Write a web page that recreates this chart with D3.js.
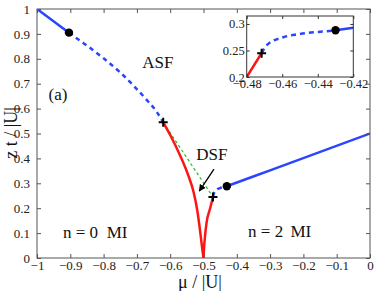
<!DOCTYPE html>
<html>
<head>
<meta charset="utf-8">
<script src="https://cdn.jsdelivr.net/npm/d3@7"></script>
<style>
  body { margin: 0; background: #fff; }
  svg text { font-family: "Liberation Serif", "Times New Roman", "DejaVu Serif", serif; }
</style>
</head>
<body>
<div id="chart"></div>
<script>
// phase diagram: mu / |U| vs z t / |U|

// boundary segments, [mu, zt] pairs
const asfSolidLeft = [[-1, 1], [-0.904, 0.905]];
const asfDashedLeft = [[-0.904, 0.905], [-0.87, 0.872], [-0.84, 0.843], [-0.80, 0.802], [-0.75, 0.745],
    [-0.71, 0.692], [-0.67, 0.634], [-0.64, 0.586], [-0.621, 0.545]];
const redLeft = [[-0.621, 0.545], [-0.6, 0.494], [-0.571, 0.414], [-0.546, 0.333], [-0.53, 0.266],
    [-0.518, 0.186], [-0.51, 0.106], [-0.504, 0.04], [-0.5, 0]];
const redRight = [[-0.5, 0], [-0.4985, 0.04], [-0.496, 0.08], [-0.491, 0.14], [-0.48, 0.2], [-0.4716, 0.245]];
const asfDashedRight = [[-0.4716, 0.245], [-0.4687, 0.26], [-0.4594, 0.275], [-0.451, 0.2806],
    [-0.4425, 0.2843], [-0.435, 0.2862], [-0.43, 0.288]];
const asfSolidRight = [[-0.43, 0.288], [-0.42, 0.293], [-0.3, 0.352], [0, 0.5]];
const dsfLine = [[-0.621, 0.545], [-0.4716, 0.245]];

const dots = [[-0.904, 0.905], [-0.43, 0.288]];
const crosses = [[-0.621, 0.545], [-0.4716, 0.245]];

// axis ticks
const xTicks = [-1, -0.9, -0.8, -0.7, -0.6, -0.5, -0.4, -0.3, -0.2, -0.1, 0];
const xTickLabels = ["−1", "−0.9", "−0.8", "−0.7", "−0.6", "−0.5", "−0.4", "−0.3", "−0.2", "−0.1", "0"];
const yTicks = [0, 0.1, 0.2, 0.3, 0.4, 0.5, 0.6, 0.7, 0.8, 0.9, 1];
const yTickLabels = ["0", "0.1", "0.2", "0.3", "0.4", "0.5", "0.6", "0.7", "0.8", "0.9", "1"];
const insetXTicks = [-0.48, -0.46, -0.44, -0.42];
const insetXTickLabels = ["−0.48", "−0.46", "−0.44", "−0.42"];
const insetYTicks = [0.2, 0.25, 0.3];
const insetYTickLabels = ["0.2", "0.25", "0.3"];

// region labels
const labels = [
    { text: "ASF", mu: -0.637, zt: 0.763, anchor: "middle" },
    { text: "DSF", mu: -0.475, zt: 0.394, anchor: "middle" },
    { text: "(a)", mu: -0.937, zt: 0.635, anchor: "middle" },
    { text: "n = 0", mu: -0.922, zt: 0.08, anchor: "start" },
    { text: "MI", mu: -0.7905, zt: 0.08, anchor: "start" },
    { text: "n = 2", mu: -0.366, zt: 0.084, anchor: "start" },
    { text: "MI", mu: -0.239, zt: 0.084, anchor: "start" }
];
const arrowFrom = [-0.4685, 0.357];
const arrowTo = [-0.5126, 0.269];

const W = 374, H = 291;
const BLUE = "#2a45ff", RED = "#ff1414", GREEN = "#33b833";
const SERIF = "'Liberation Serif', 'Times New Roman', 'DejaVu Serif', serif";

const svg = d3.select("#chart").append("svg")
    .attr("width", W)
    .attr("height", H);

svg.append("defs").append("marker")
    .attr("id", "head")
    .attr("viewBox", "0 0 10 10")
    .attr("refX", 9).attr("refY", 5)
    .attr("markerWidth", 7).attr("markerHeight", 7)
    .attr("markerUnits", "userSpaceOnUse")
    .attr("orient", "auto")
    .append("path")
    .attr("d", "M0,0L10,5L0,10z")
    .attr("fill", "#000");

const x = d3.scaleLinear().domain([-1, 0]).range([37, 370]);
const y = d3.scaleLinear().domain([0, 1]).range([258, 9]);

function drawPanel(g, xs, ys, clipId, opts) {
    const [x0, x1] = xs.range();
    const [y0, y1] = ys.range();

    g.append("clipPath").attr("id", clipId)
        .append("rect")
        .attr("x", x0).attr("y", y1)
        .attr("width", x1 - x0).attr("height", y0 - y1);

    const line = d3.line()
        .x(d => xs(d[0]))
        .y(d => ys(d[1]))
        .curve(d3.curveMonotoneX);

    const plot = g.append("g").attr("clip-path", `url(#${clipId})`);

    const segs = [
        { data: asfSolidLeft, color: BLUE, dash: null },
        { data: asfDashedLeft, color: BLUE, dash: "4.5,4" },
        { data: redLeft, color: RED, dash: null },
        { data: redRight, color: RED, dash: null },
        { data: asfDashedRight, color: BLUE, dash: "5,4" },
        { data: asfSolidRight, color: BLUE, dash: null }
    ];

    if (opts.showDsf) {
        plot.append("path")
            .datum(dsfLine)
            .attr("fill", "none")
            .attr("stroke", GREEN)
            .attr("stroke-width", 1.2)
            .attr("stroke-dasharray", "3,2.5")
            .attr("d", d3.line().x(d => xs(d[0])).y(d => ys(d[1])));
    }

    segs.forEach(s => {
        plot.append("path")
            .datum(s.data)
            .attr("fill", "none")
            .attr("stroke", s.color)
            .attr("stroke-width", 2.5)
            .attr("stroke-dasharray", s.dash)
            .attr("d", line);
    });

    plot.selectAll(null)
        .data(dots)
        .enter().append("circle")
        .attr("cx", d => xs(d[0]))
        .attr("cy", d => ys(d[1]))
        .attr("r", 4.2)
        .attr("fill", "#000");

    plot.selectAll(null)
        .data(crosses)
        .enter().append("path")
        .attr("d", d => {
            const cx = xs(d[0]), cy = ys(d[1]), r = 4.5;
            return `M${cx - r},${cy}H${cx + r}M${cx},${cy - r}V${cy + r}`;
        })
        .attr("stroke", "#000")
        .attr("stroke-width", 2);

    // axes, ticks pointing inward on all four sides
    const t = opts.tick;
    const bottom = g.append("g")
        .attr("transform", `translate(0,${y0})`)
        .call(d3.axisBottom(xs).tickValues(opts.xTicks).tickSizeInner(-t).tickSizeOuter(0)
            .tickPadding(opts.xPad).tickFormat((d, i) => opts.xLabels[i]));
    const left = g.append("g")
        .attr("transform", `translate(${x0},0)`)
        .call(d3.axisLeft(ys).tickValues(opts.yTicks).tickSizeInner(-t).tickSizeOuter(0)
            .tickPadding(opts.yPad).tickFormat((d, i) => opts.yLabels[i]));
    const top = g.append("g")
        .attr("transform", `translate(0,${y1})`)
        .call(d3.axisTop(xs).tickValues(opts.xTicks).tickSizeInner(-t).tickSizeOuter(0).tickFormat(""));
    const right = g.append("g")
        .attr("transform", `translate(${x1},0)`)
        .call(d3.axisRight(ys).tickValues(opts.yTicks).tickSizeInner(-t).tickSizeOuter(0).tickFormat(""));

    [bottom, left, top, right].forEach(a => {
        a.attr("font-family", SERIF);
        a.select(".domain").remove();
        a.selectAll("line").attr("stroke", opts.axisColor);
        a.selectAll("text")
            .attr("fill", "#222")
            .style("font-family", SERIF)
            .attr("font-size", opts.fontSize);
    });

    g.append("rect")
        .attr("x", x0).attr("y", y1)
        .attr("width", x1 - x0).attr("height", y0 - y1)
        .attr("fill", "none")
        .attr("stroke", opts.axisColor)
        .attr("stroke-width", 1);
}

const main = svg.append("g");
drawPanel(main, x, y, "clip-main", {
    showDsf: true,
    tick: 4,
    xTicks, xLabels: xTickLabels, yTicks, yLabels: yTickLabels,
    xPad: 3, yPad: 7,
    fontSize: 13,
    axisColor: "#555"
});

// region labels and arrow
main.selectAll(null)
    .data(labels)
    .enter().append("text")
    .attr("x", d => x(d.mu))
    .attr("y", d => y(d.zt))
    .attr("text-anchor", d => d.anchor)
    .style("font-family", SERIF)
    .attr("font-size", 17)
    .attr("fill", "#111")
    .text(d => d.text);

main.append("line")
    .attr("x1", x(arrowFrom[0])).attr("y1", y(arrowFrom[1]))
    .attr("x2", x(arrowTo[0])).attr("y2", y(arrowTo[1]))
    .attr("stroke", "#000")
    .attr("stroke-width", 1.3)
    .attr("marker-end", "url(#head)");

// axis titles
svg.append("text")
    .attr("x", 200).attr("y", 288)
    .attr("text-anchor", "middle")
    .style("font-family", SERIF)
    .attr("font-size", 18)
    .attr("fill", "#111")
    .text("μ / |U|");

svg.append("text")
    .attr("transform", "translate(17,133) rotate(-90)")
    .attr("text-anchor", "middle")
    .style("font-family", SERIF)
    .attr("font-size", 18)
    .attr("fill", "#111")
    .text("z t / |U|");

// inset zoom around the right cross
const ix = d3.scaleLinear().domain([-0.48, -0.42]).range([246.7, 353.3]);
const iy = d3.scaleLinear().domain([0.2, 0.315]).range([77, 16]);

const inset = svg.append("g");
inset.append("rect")
    .attr("x", 246.7).attr("y", 16)
    .attr("width", 353.3 - 246.7).attr("height", 77 - 16)
    .attr("fill", "#fff");

drawPanel(inset, ix, iy, "clip-inset", {
    showDsf: false,
    tick: 3,
    xTicks: insetXTicks, xLabels: insetXTickLabels, yTicks: insetYTicks, yLabels: insetYTickLabels,
    xPad: 2, yPad: 2,
    fontSize: 12.5,
    axisColor: "#333"
});
</script>
</body>
</html>
